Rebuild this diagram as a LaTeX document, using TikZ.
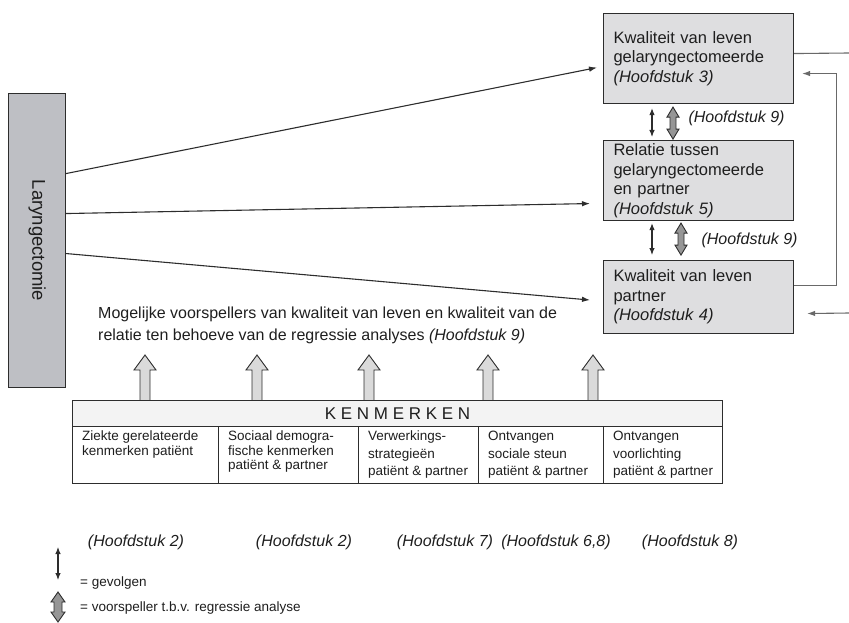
\documentclass[tikz,border=0pt]{standalone}
\usepackage{fontspec}
\setmainfont{Liberation Sans}
\usetikzlibrary{arrows,arrows.meta,positioning,calc}

\definecolor{lijn}{RGB}{45,45,45}
\definecolor{kaderfill}{RGB}{222,222,224}
\definecolor{larfill}{RGB}{190,191,196}
\definecolor{kopfill}{RGB}{243,243,243}
\definecolor{pijlfill}{RGB}{218,218,218}
\definecolor{vetfill}{RGB}{150,150,150}
\definecolor{lus}{RGB}{105,105,105}
\definecolor{tekst}{RGB}{30,30,30}

\begin{document}
\begin{tikzpicture}[x=1pt,y=-1pt,>={Latex[length=8pt,width=5.5pt]},
    kader/.style={draw=lijn,fill=kaderfill,line width=1.1,anchor=north west,
        minimum width=190,text width=170,inner xsep=10,inner ysep=0,align=left,
        text=tekst,font=\fontsize{16.5}{19.5}\selectfont},
    pijl/.style={->,draw=lijn,line width=1.1},
    volg/.style={{Latex[length=7pt,width=5.5pt]}-{Latex[length=7pt,width=5.5pt]},draw=lijn,line width=1.1},
    lijnlus/.style={draw=lus,line width=1.1},
    vetpijl/.style={draw=lijn,fill=vetfill,line width=0.9},
    oppijl/.style={draw=lijn,fill=pijlfill,line width=0.9},
    cel/.style={draw=lijn,line width=1,anchor=north west,minimum height=57,inner sep=0},
    hfd/.style={text=tekst,font=\fontsize{16}{19}\selectfont\itshape}]

    \useasboundingbox (0,0) rectangle (849,623);  % Size of reference

    %
    % Laryngectomie and the three outcome boxes
    %
    \node[draw=lijn,fill=larfill,line width=1.1,anchor=north west,
          minimum width=57,minimum height=294,inner sep=0] (lar) at (8,93) {};
    \node[rotate=-90,text=tekst,font=\fontsize{18.5}{22}\selectfont] (lartekst) at (lar.center) {Laryngectomie};

    \node[kader,minimum height=90] (kvlg) at (603,13)
        {Kwaliteit van leven\\gelaryngectomeerde\\\textit{(Hoofdstuk 3)}};
    \node[kader,minimum height=80] (relatie) at (603,140)
        {Relatie tussen\\gelaryngectomeerde\\en partner\\\textit{(Hoofdstuk 5)}};
    \node[kader,minimum height=73] (kvlp) at (603,260)
        {Kwaliteit van leven\\partner\\\textit{(Hoofdstuk 4)}};

    \draw[pijl] ([yshift=67]lar.east) -- ([xshift=-6,yshift=-9]kvlg.west);
    \draw[pijl] ([yshift=27]lar.east) -- ([xshift=-13,yshift=-23]relatie.west);
    \draw[pijl] ([yshift=-13]lar.east) -- ([xshift=-13,yshift=-3]kvlp.west);

    %
    % Lines on the right side
    %
    \coordinate (rand1) at (849,53);   % line leaves the picture
    \coordinate (rand2) at (849,313);  % line enters the picture
    \draw[lijnlus] ([yshift=5]kvlg.east) -- (rand1);
    \draw[lijnlus,->] ([yshift=11.5]kvlp.east) -- ++(42,0) |- ([xshift=8,yshift=-15]kvlg.east);
    \draw[lijnlus,->] (rand2) -- ([xshift=13,yshift=-16.5]kvlp.east);

    %
    % Arrows between the boxes
    %
    \draw[volg] ([xshift=49,yshift=-4]kvlg.south west) -- ([xshift=49,yshift=3]relatie.north west);
    \draw[volg] ([xshift=49,yshift=-2]relatie.south west) -- ([xshift=49,yshift=5]kvlp.north west);
    \coordinate (v1) at ([xshift=70,yshift=-3]kvlg.south west);    % top of fat arrow 1
    \coordinate (v2) at ([xshift=78,yshift=-2]relatie.south west); % top of fat arrow 2
    \coordinate (v3) at (58,592);                                  % top of legend arrow
    \foreach \v/\l/\hw/\sw in {v1/32/6/3, v2/32/6/3, v3/30/7/4} {
        \pgfmathsetmacro {\s}{\l-20}    %Length of shaft
        \pgfmathsetmacro {\d}{\hw-\sw}  %Head extends beyond shaft
        \draw[vetpijl] (\v) -- ++(\hw,10) -- ++(-\d,0) -- ++(0,\s) -- ++(\d,0) -- ++(-\hw,10)
            -- ++(-\hw,-10) -- ++(\d,0) -- ++(0,-\s) -- ++(-\d,0) -- cycle;
    }
    \node[hfd,anchor=west] (hfd9a) at (685,118) {(Hoofdstuk 9)};
    \node[hfd,anchor=west] (hfd9b) at (698,240) {(Hoofdstuk 9)};

    %
    % Predictors and characteristics
    %
    \node[anchor=north west,inner sep=0,align=left,text=tekst,
          font=\fontsize{16}{21.5}\selectfont] (voorspellers) at (98,307)
        {Mogelijke voorspellers van kwaliteit van leven en kwaliteit van de\\
         relatie ten behoeve van de regressie analyses \textit{(Hoofdstuk 9)}};

    \foreach \x in {145,257,369,488,593} {
        \draw[oppijl] (\x-5,400) -- (\x-5,370) -- (\x-11,370) -- (\x,355)
            -- (\x+11,370) -- (\x+5,370) -- (\x+5,400);   %Arrow up to predictors
    }

    \node[draw=lijn,fill=kopfill,line width=1,anchor=north west,minimum width=650,
          minimum height=26,inner sep=0,text=tekst,font=\fontsize{17}{20}\selectfont]
          (kop) at (72,400) {K E N M E R K E N};

    \foreach \xl/\xr/\ls/\tekst [count=\i] in {
        72/218/14.5/{Ziekte gerelateerde\\kenmerken patiënt},
        218/358/14.5/{Sociaal demogra-\\fische kenmerken\\patiënt \& partner},
        358/478/17.5/{Verwerkings-\\strategieën\\patiënt \& partner},
        478/603/17.5/{Ontvangen\\sociale steun\\patiënt \& partner},
        603/722/17.5/{Ontvangen\\voorlichting\\patiënt \& partner}} {
        \pgfmathsetmacro {\w}{\xr-\xl}   %Width of cell
        \node[cel,minimum width=\w] (cel\i) at (\xl,426) {};
        \node[anchor=north west,inner sep=0,align=left,text=tekst,
              font=\fontsize{13.5}{\ls}\selectfont] (celtekst\i)
              at ([xshift=10,yshift=-5]cel\i.north west) {\tekst};
    }

    \foreach \x/\h [count=\i] in {136/2,304/2,445/7,556/{6,8},690/8} {
        \node[hfd] (hfd\i) at (\x,542) {(Hoofdstuk \h)};
    }

    %
    % Legend
    %
    \coordinate (lg1) at (58,547);
    \coordinate (lg2) at (58,580);
    \draw[volg] (lg1) -- (lg2);
    \node[anchor=west,inner sep=0,text=tekst,font=\fontsize{13.5}{16}\selectfont] (gevolgen) at (80,583) {= gevolgen};
    \node[anchor=west,inner sep=0,text=tekst,font=\fontsize{13.5}{16}\selectfont] (voorspeller) at (80,608) {= voorspeller t.b.v. regressie analyse};
\end{tikzpicture}
\end{document}
